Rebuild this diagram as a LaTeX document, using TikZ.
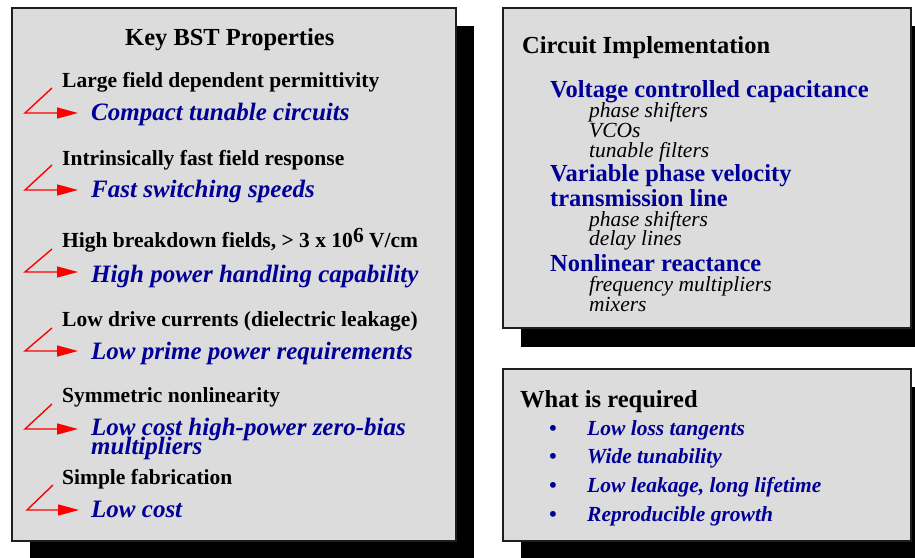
\documentclass[tikz,border=0pt]{standalone}
\usepackage{fontspec}
\setmainfont{Liberation Serif}
\usetikzlibrary{arrows.meta}
\definecolor{boxgray}{RGB}{220,220,220}
\definecolor{navy}{RGB}{0,0,150}
\definecolor{boxline}{RGB}{30,30,30}
\begin{document}
\begin{tikzpicture}[x=1pt,y=-1pt,
  panel/.style={fill=boxgray, draw=boxline, line width=1.3pt},
  shadowbox/.style={fill=black},
  hd/.style={anchor=base west, inner sep=0pt, font=\fontsize{24.5}{26}\selectfont\bfseries},
  prop/.style={anchor=base west, inner sep=0pt, font=\fontsize{21.5}{23}\selectfont\bfseries},
  benefit/.style={anchor=base west, inner sep=0pt, text=navy, font=\fontsize{25}{26}\selectfont\bfseries\itshape},
  impl/.style={anchor=base west, inner sep=0pt, text=navy, font=\fontsize{24.5}{26}\selectfont\bfseries},
  sub/.style={anchor=base west, inner sep=0pt, font=\fontsize{21.5}{23}\selectfont\itshape},
  req/.style={anchor=base west, inner sep=0pt, text=navy, font=\fontsize{21.5}{23}\selectfont\bfseries\itshape},
  redarrow/.style={draw=red, line width=1.4pt, -{Triangle[length=21pt,width=11pt]}}]
\useasboundingbox (0,0) rectangle (915,557);

% shadows
\fill[shadowbox] (30,26) rectangle (474,560);
\fill[shadowbox] (521,26) rectangle (930,347);
\fill[shadowbox] (521,387) rectangle (930,560);
% panels
\draw[panel] (12,8) rectangle (456,541);
\draw[panel] (503,8) rectangle (911,328);
\draw[panel] (503,369) rectangle (911,541);

% left panel
\node[hd] (title) at (125,45) {Key BST Properties};

\node[prop] (p1) at (62,87) {Large field dependent permittivity};
\node[benefit] (b1) at (91,120) {Compact tunable circuits};
\node[prop] (p2) at (62,165) {Intrinsically fast field response};
\node[benefit] (b2) at (91,197) {Fast switching speeds};
\node[prop] (p3) at (62,247) {High breakdown fields, > 3 x 10\raisebox{5pt}{6} V/cm};
\node[benefit] (b3) at (91,282) {High power handling capability};
\node[prop] (p4) at (62,326) {Low drive currents (dielectric leakage)};
\node[benefit] (b4) at (91,359) {Low prime power requirements};
\node[prop] (p5) at (62,402) {Symmetric nonlinearity};
\node[benefit] (b5) at (91,435) {Low cost high-power zero-bias};
\node[benefit] (b5b) at (91,454) {multipliers};
\node[prop] (p6) at (62,484) {Simple fabrication};
\node[benefit] (b6) at (91,517) {Low cost};

\coordinate (t1) at (52,88);  \coordinate (c1) at (25,113); \coordinate (h1) at (78,113);
\coordinate (t2) at (52,165); \coordinate (c2) at (25,190); \coordinate (h2) at (78,190);
\coordinate (t3) at (52,249); \coordinate (c3) at (25,272); \coordinate (h3) at (78,272);
\coordinate (t4) at (52,328); \coordinate (c4) at (25,351); \coordinate (h4) at (78,351);
\coordinate (t5) at (52,404); \coordinate (c5) at (25,429); \coordinate (h5) at (78,429);
\coordinate (t6) at (53,485); \coordinate (c6) at (27,510); \coordinate (h6) at (79,510);
\foreach \i in {1,...,6} {\draw[redarrow] (t\i) -- (c\i) -- (h\i);}

% right top panel
\node[hd] (ci) at (522,53) {Circuit Implementation};
\node[impl] (v1) at (550,97) {Voltage controlled capacitance};
\node[sub] (s11) at (589,117) {phase shifters};
\node[sub] (s12) at (589,137) {VCOs};
\node[sub] (s13) at (589,157) {tunable filters};
\node[impl] (v2) at (550,181) {Variable phase velocity};
\node[impl] (v2b) at (550,206) {transmission line};
\node[sub] (s21) at (589,226) {phase shifters};
\node[sub] (s22) at (589,245) {delay lines};
\node[impl] (v3) at (550,271) {Nonlinear reactance};
\node[sub] (s31) at (589,291) {frequency multipliers};
\node[sub] (s32) at (589,311) {mixers};

% right bottom panel
\node[hd] (wr) at (520,407) {What is required};
\node[req] (d1) at (549,435) {•};
\node[req] (r1) at (587,435) {Low loss tangents};
\node[req] (d2) at (549,463) {•};
\node[req] (r2) at (587,463) {Wide tunability};
\node[req] (d3) at (549,492) {•};
\node[req] (r3) at (587,492) {Low leakage, long lifetime};
\node[req] (d4) at (549,521) {•};
\node[req] (r4) at (587,521) {Reproducible growth};
\end{tikzpicture}
\end{document}
